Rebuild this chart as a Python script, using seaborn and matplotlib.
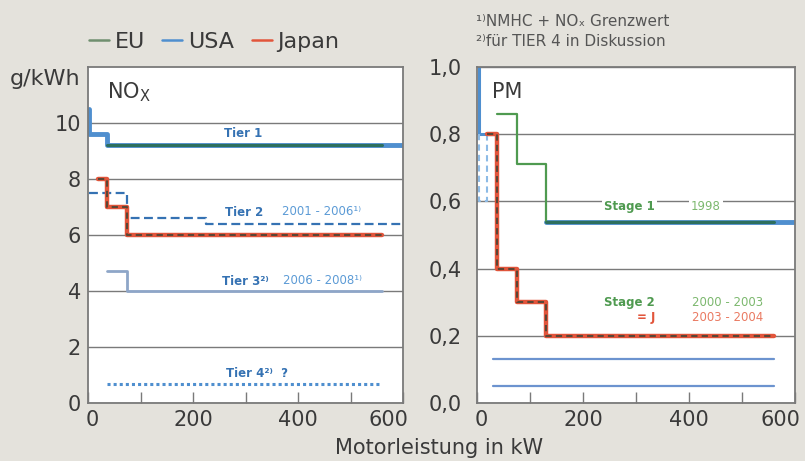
import matplotlib
matplotlib.use('Agg')
import matplotlib.pyplot as plt
from matplotlib.lines import Line2D
from matplotlib.transforms import ScaledTranslation
import seaborn as sns

# NOx limits (g/kWh) against engine power (kW), step start points
usa_nox_tier1_kw = [2, 2, 37, 600]
usa_nox_tier1 = [10.5, 9.6, 9.2, 9.2]
eu_nox_stage1_kw = [37, 560]
eu_nox_stage1 = [9.2, 9.2]
japan_nox_kw = [19, 37, 75, 560]
japan_nox = [8.0, 7.0, 6.0, 6.0]
usa_nox_tier2_kw = [2, 75, 225, 600]
usa_nox_tier2 = [7.5, 6.6, 6.4, 6.4]
usa_nox_tier3_kw = [37, 75, 560]
usa_nox_tier3 = [4.7, 4.0, 4.0]
usa_nox_tier4_kw = [37, 560]
usa_nox_tier4 = [0.67, 0.67]

# PM limits (g/kWh)
usa_pm_tier1_kw = [3, 3, 30]
usa_pm_tier1 = [1.0, 0.8, 0.8]
usa_pm_tier2_kw = [3, 3, 19, 19]
usa_pm_tier2 = [0.8, 0.6, 0.6, 0.8]
usa_pm_large_kw = [130, 600]
usa_pm_large = [0.54, 0.54]
eu_pm_stage1_kw = [37, 75, 130, 560]
eu_pm_stage1 = [0.86, 0.71, 0.54, 0.54]
japan_pm_kw = [19, 37, 75, 130, 560]
japan_pm = [0.8, 0.4, 0.3, 0.2, 0.2]
usa_pm_tier4_kw = [30, 560]
usa_pm_tier4a = [0.13, 0.13]
usa_pm_tier4b = [0.05, 0.05]

x_ticks = [0, 100, 200, 300, 400, 500, 600]
x_labels = ['0', '', '200', '', '400', '', '600']
nox_ticks = [0, 2, 4, 6, 8, 10]
pm_ticks = [0.0, 0.2, 0.4, 0.6, 0.8, 1.0]
pm_labels = ['0,0', '0,2', '0,4', '0,6', '0,8', '1,0']

bg = '#e4e2dc'
eu_col = '#4f9a50'
eu_dark = '#2d6f5e'
usa_col = '#4f8fcf'
usa_dark = '#3572b3'
jp_col = '#e2553b'
dash_col = '#5b4636'
grid_col = '#7a7a7a'
txt_col = '#3a3a3a'

sns.set_theme(style='white')
plt.rcParams['font.family'] = ['DejaVu Sans']


def step(ax, kw, vals, **kws):
    sns.lineplot(x=kw, y=vals, ax=ax, drawstyle='steps-post', estimator=None,
                 sort=False, legend=False, **kws)


def style_axis(ax, ymax, yticks, ylabels, ypad):
    ax.set_facecolor('white')
    ax.set_xlim(0, 600)
    ax.set_ylim(0, ymax)
    ax.set_xticks(x_ticks)
    ax.set_xticklabels(x_labels)
    ax.set_yticks(yticks)
    ax.set_yticklabels(ylabels)
    ax.tick_params(axis='x', bottom=True, direction='in', length=8, width=1,
                   color=grid_col, labelsize=15, labelcolor=txt_col, pad=5)
    ax.tick_params(axis='y', left=False, length=0, labelsize=15,
                   labelcolor=txt_col, pad=ypad)
    xl = ax.xaxis.get_majorticklabels()
    xl[0].set_transform(xl[0].get_transform() + ScaledTranslation(0.04, 0, fig.dpi_scale_trans))
    xl[-1].set_transform(xl[-1].get_transform() + ScaledTranslation(-0.15, 0, fig.dpi_scale_trans))
    ax.yaxis.grid(True, color=grid_col, lw=1)
    ax.set_axisbelow(True)
    for s in ax.spines.values():
        s.set_color(grid_col)
        s.set_linewidth(1.3)
    ax.set_xlabel('')
    ax.set_ylabel('')


fig = plt.figure(figsize=(8.05, 4.61), dpi=100, facecolor=bg)
ax1 = fig.add_axes([88 / 805, 1 - 403 / 461, 315 / 805, 336 / 461])
ax2 = fig.add_axes([477 / 805, 1 - 403 / 461, 318 / 805, 336 / 461])

# NOx panel
step(ax1, usa_nox_tier1_kw, usa_nox_tier1, color=usa_col, lw=3.5)
step(ax1, eu_nox_stage1_kw, eu_nox_stage1, color=eu_dark, lw=2.2)
step(ax1, usa_nox_tier2_kw, usa_nox_tier2, color=usa_dark, lw=1.6, linestyle=(0, (4, 2)))
step(ax1, japan_nox_kw, japan_nox, color=jp_col, lw=3.2)
step(ax1, japan_nox_kw, japan_nox, color=dash_col, lw=1.5, linestyle=(0, (3, 2)))
step(ax1, usa_nox_tier3_kw, usa_nox_tier3, color='#8ea6c8', lw=2)
step(ax1, usa_nox_tier4_kw, usa_nox_tier4, color=usa_col, lw=2.2, linestyle=(0, (1, 1)))

style_axis(ax1, 12, nox_ticks, [str(t) for t in nox_ticks], 5)
ax1.text(36, 11.1, r'NO$_\mathrm{X}$', fontsize=15, color=txt_col, va='center')

tier_txt = dict(fontsize=8.5, color=usa_dark, fontweight='bold', va='center')
yr_txt = dict(fontsize=8.5, color='#5c9bd6', va='center')
ax1.text(295, 9.64, 'Tier 1', ha='center', **tier_txt)
ax1.text(297, 6.8, 'Tier 2', ha='center', **tier_txt)
ax1.text(444, 6.85, '2001 - 2006¹⁾', ha='center', **yr_txt)
ax1.text(300, 4.35, 'Tier 3²⁾', ha='center', **tier_txt)
ax1.text(446, 4.38, '2006 - 2008¹⁾', ha='center', **yr_txt)
ax1.text(322, 1.05, 'Tier 4²⁾  ?', ha='center', **tier_txt)

# PM panel
step(ax2, usa_pm_tier1_kw, usa_pm_tier1, color=usa_col, lw=2.2)
step(ax2, usa_pm_tier2_kw, usa_pm_tier2, color='#8dbbe6', lw=1.5, linestyle=(0, (3, 2)))
step(ax2, usa_pm_large_kw, usa_pm_large, color=usa_col, lw=3.5)
step(ax2, eu_pm_stage1_kw, eu_pm_stage1, color=eu_col, lw=1.6)
step(ax2, [130, 560], [0.54, 0.54], color=eu_dark, lw=2.2)
step(ax2, japan_pm_kw, japan_pm, color=jp_col, lw=3.2)
step(ax2, japan_pm_kw, japan_pm, color=dash_col, lw=1.5, linestyle=(0, (3, 2)))
step(ax2, usa_pm_tier4_kw, usa_pm_tier4a, color='#6c93cf', lw=1.6)
step(ax2, usa_pm_tier4_kw, usa_pm_tier4b, color='#6c93cf', lw=1.6)

style_axis(ax2, 1.0, pm_ticks, pm_labels, 11)
ax2.text(28, 0.925, 'PM', fontsize=15, color=txt_col, va='center')

box = dict(facecolor='white', edgecolor='none', pad=1.5)
ax2.text(287, 0.585, 'Stage 1', fontsize=8.5, color=eu_col, fontweight='bold',
         ha='center', va='center', bbox=box)
ax2.text(432, 0.585, '1998', fontsize=8.5, color='#7cb86e', ha='center',
         va='center', bbox=box)
ax2.text(336, 0.30, 'Stage 2', fontsize=8.5, color=eu_col, fontweight='bold',
         ha='right', va='center')
ax2.text(472, 0.30, '2000 - 2003', fontsize=8.5, color='#7cb86e', ha='center', va='center')
ax2.text(336, 0.253, '= J', fontsize=8.5, color=jp_col, fontweight='bold',
         ha='right', va='center')
ax2.text(472, 0.253, '2003 - 2004', fontsize=8.5, color='#ea7a62', ha='center', va='center')

# figure-level texts
fig.text(10 / 805, 1 - 79 / 461, 'g/kWh', fontsize=16, color=txt_col, va='center')
fig.text(439 / 805, 1 - 448 / 461, 'Motorleistung in kW', fontsize=15,
         color=txt_col, ha='center', va='center')
fig.text(476 / 805, 1 - 22 / 461, '¹⁾NMHC + NOₓ Grenzwert', fontsize=11,
         color='#555555', va='center')
fig.text(476 / 805, 1 - 42 / 461, '²⁾für TIER 4 in Diskussion', fontsize=11,
         color='#555555', va='center')

handles = [Line2D([], [], color='#6f8f6f', lw=1.8),
           Line2D([], [], color=usa_col, lw=1.8),
           Line2D([], [], color=jp_col, lw=1.8)]
fig.legend(handles, ['EU', 'USA', 'Japan'], loc='center left',
           bbox_to_anchor=(80 / 805, 1 - 42 / 461), ncol=3, frameon=False,
           fontsize=16, handlelength=0.9, handletextpad=0.25, columnspacing=0.8,
           labelcolor=txt_col, borderaxespad=0)

fig.savefig('out.png', dpi=100, facecolor=bg)
